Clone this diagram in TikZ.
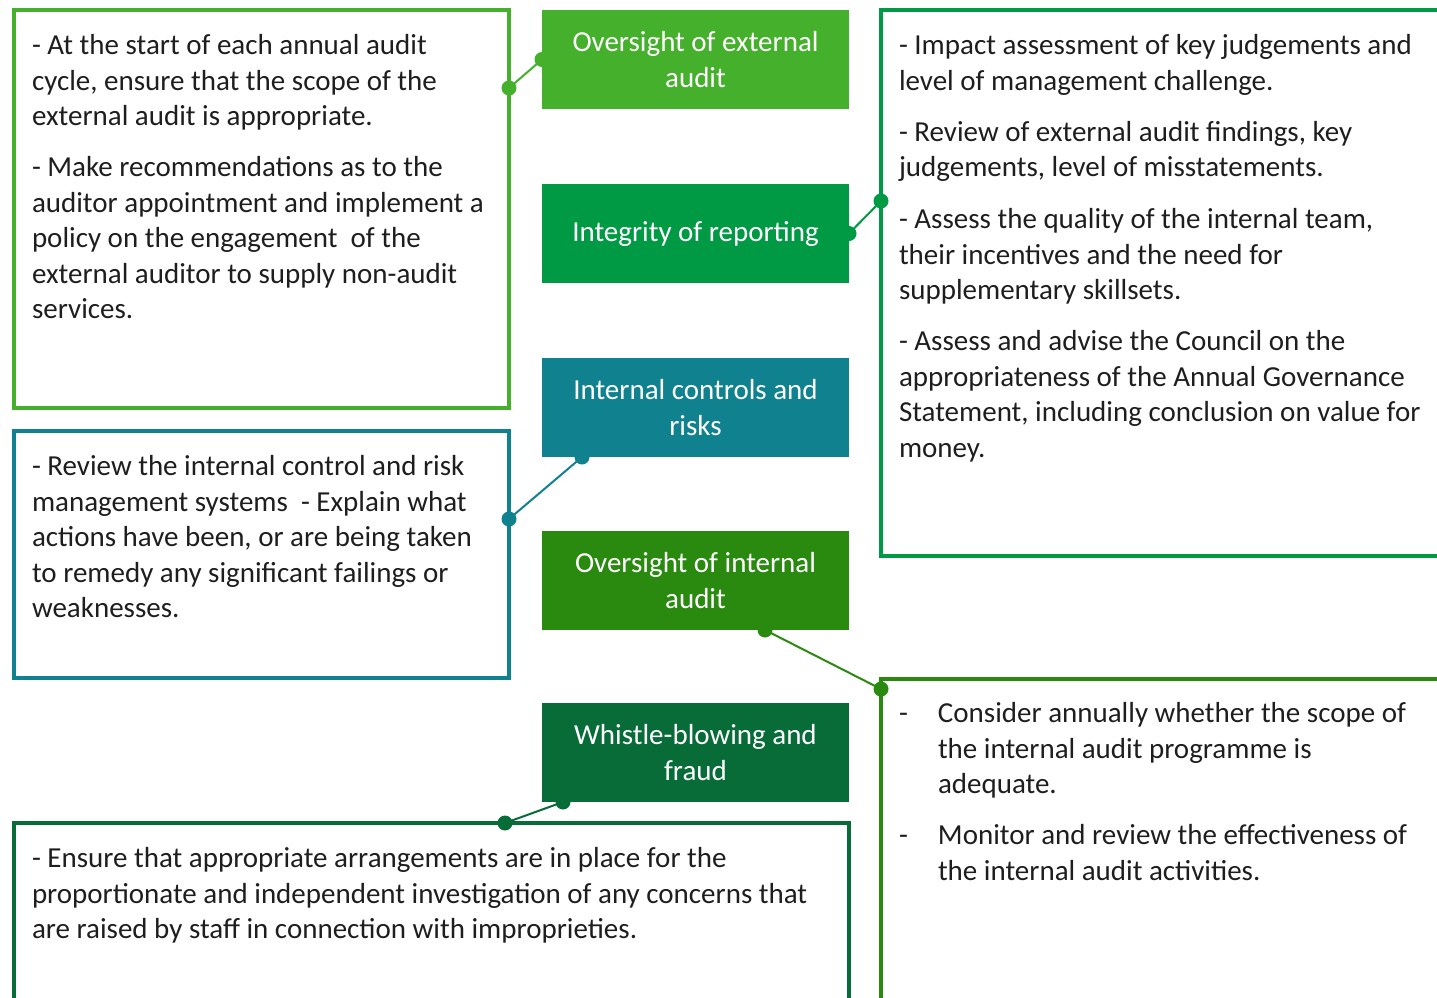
\documentclass[tikz,border=0pt]{standalone}
\usepackage{fontspec}
\setmainfont{Carlito}
\usetikzlibrary{calc}
\definecolor{cA}{RGB}{69,176,43}
\definecolor{cB}{RGB}{0,154,68}
\definecolor{cC}{RGB}{16,130,143}
\definecolor{cD}{RGB}{42,138,16}
\definecolor{cE}{RGB}{7,108,56}
\definecolor{txt}{RGB}{30,30,30}
\newcommand{\bodyfont}{\fontsize{29}{35.5}\selectfont}
\begin{document}
\begin{tikzpicture}[x=1pt,y=-1pt,
  frame/.style={draw=#1, line width=4pt, inner sep=0pt, outer sep=0pt, anchor=north west},
  topic/.style={fill=#1, text=white, anchor=north west, minimum width=307pt, minimum height=99pt,
    inner sep=0pt, outer sep=0pt, align=center, font=\bodyfont},
  body/.style={anchor=north west, inner sep=0pt, outer sep=0pt, align=left, font=\bodyfont, text=txt},
  link/.style={draw=#1, line width=2pt},
  dot/.style={fill=#1}
]
\useasboundingbox (0,0) rectangle (1437,997);
\clip (0,0) rectangle (1437,997);

% frames
\node[frame=cA, minimum width=495pt, minimum height=398pt] (lb1) at (14,10) {};
\node[frame=cC, minimum width=495pt, minimum height=247pt] (lb2) at (14,431) {};
\node[frame=cE, minimum width=835pt, minimum height=220pt] (bb) at (14,823) {};
\node[frame=cB, minimum width=600pt, minimum height=546pt] (rt) at (881,10) {};
\node[frame=cD, minimum width=600pt, minimum height=400pt] (rb) at (881,679) {};

% topics
\node[topic=cA] (ob1) at (542,10) {Oversight of external\\audit};
\node[topic=cB] (ir) at (542,184) {Integrity of reporting};
\node[topic=cC] (ic) at (542,358) {Internal controls and\\risks};
\node[topic=cD] (oi) at (542,531) {Oversight of internal\\audit};
\node[topic=cE] (wb) at (542,703) {Whistle-blowing and\\fraud};

% texts
\node[body] (t1) at (32,30) {\strut- At the start of each annual audit\\cycle, ensure that the scope of the\\external audit is appropriate.\\[15.5pt]- Make recommendations as to the\\auditor appointment and implement a\\policy on the engagement\ \ of the\\external auditor to supply non-audit\\services.};
\node[body] (t2) at (32,451) {\strut- Review the internal control and risk\\management systems\ \ - Explain what\\actions have been, or are being taken\\to remedy any significant failings or\\weaknesses.};
\node[body] (t3) at (32,843) {\strut- Ensure that appropriate arrangements are in place for the\\proportionate and independent investigation of any concerns that\\are raised by staff in connection with improprieties.};
\node[body] (t4) at (899,30) {\strut- Impact assessment of key judgements and\\level of management challenge.\\[15.5pt]- Review of external audit findings, key\\judgements, level of misstatements.\\[16.5pt]- Assess the quality of the internal team,\\their incentives and the need for\\supplementary skillsets.\\[15.5pt]- Assess and advise the Council on the\\appropriateness of the Annual Governance\\Statement, including conclusion on value for\\money.};
\node[body] (t5) at (899,698) {\strut\makebox[39pt][l]{-}Consider annually whether the scope of\\\hspace*{39pt}the internal audit programme is\\\hspace*{39pt}adequate.\\[15.5pt]\makebox[39pt][l]{-}Monitor and review the effectiveness of\\\hspace*{39pt}the internal audit activities.};

% connectors
\coordinate (a1) at (ob1.west);
\coordinate (b1) at ([yshift=-78pt]lb1.north east);
\coordinate (a2) at (ir.east);
\coordinate (b2) at ([yshift=-191pt]rt.north west);
\coordinate (a3) at ([xshift=40pt]ic.south west);
\coordinate (b3) at ([yshift=-88pt]lb2.north east);
\coordinate (a4) at ([xshift=223pt]oi.south west);
\coordinate (b4) at ([yshift=-10pt]rb.north west);
\coordinate (a5) at ([xshift=21pt]wb.south west);
\coordinate (b5) at ([xshift=491pt]bb.north west);

\draw[link=cA] (a1) -- (b1);
\draw[link=cB] (a2) -- (b2);
\draw[link=cC] (a3) -- (b3);
\draw[link=cD] (a4) -- (b4);
\draw[link=cE] (a5) -- (b5);
\foreach \p/\c in {a1/cA,b1/cA,a2/cB,b2/cB,a3/cC,b3/cC,a4/cD,b4/cD,a5/cE,b5/cE}
  \fill[dot=\c] (\p) circle (7.5pt);
\end{tikzpicture}
\end{document}
